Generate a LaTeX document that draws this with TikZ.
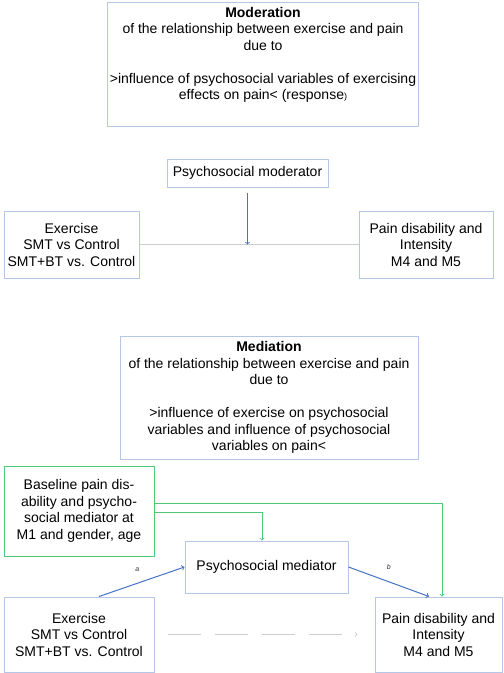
\documentclass[tikz,border=0pt]{standalone}
\usepackage{fontspec}
\setmainfont{Liberation Sans}
\usepackage{tikz}
\usetikzlibrary{positioning}

\definecolor{boxblue}{RGB}{180,199,231}
\definecolor{lineblue}{RGB}{68,114,196}
\definecolor{linegreen}{RGB}{80,200,120}
\definecolor{linegray}{RGB}{205,205,205}

\tikzset{
  box/.style={draw=boxblue, line width=1pt, align=center, inner sep=2pt,
    font=\fontsize{14}{16.5}\selectfont},
  greenbox/.style={box, draw=linegreen},
  lab/.style={text=black!80, font=\fontsize{7}{8}\selectfont\itshape, inner sep=0pt}
}

\begin{document}
\begin{tikzpicture}[x=1pt,y=-1pt]
    \useasboundingbox (0,0) rectangle (504,673);

    % moderation part
    \node[box, minimum width=308, minimum height=124] (mod) at (263,64)
      {\textbf{Moderation}\\of the relationship between exercise and pain\\due to\\[16.5pt]
       >influence of psychosocial variables of exercising\\effects on pain< (response{\fontsize{9}{10}\selectfont )}\\ \strut};

    \node[box, minimum width=161, minimum height=28] (modvar) at (247.5,173) {Psychosocial moderator};
    \node[box, minimum width=135, minimum height=67] (exA) at (71.5,244.5) {Exercise\\SMT vs Control\\SMT+BT vs. Control};
    \node[box, minimum width=134, minimum height=67] (painA) at (426,244.5) {Pain disability and\\Intensity\\M4 and M5};

    \draw[linegray, line width=0.8pt] (exA.east) -- (painA.west);
    \draw[->, lineblue, line width=0.8pt] ([yshift=-5pt]modvar.south) -- (modvar.south |- exA.east);

    % mediation part
    \node[box, minimum width=298, minimum height=123] (med) at (269,397.5)
      {\textbf{Mediation}\\of the relationship between exercise and pain\\due to\\[16.5pt]
       >influence of exercise on psychosocial\\variables and influence of psychosocial\\variables on pain<};

    \node[greenbox, minimum width=150, minimum height=90] (base) at (79,511)
      {Baseline pain dis-\\ability and psycho-\\social mediator at\\M1 and gender, age};
    \node[box, minimum width=163, minimum height=52] (medvar) at (266.5,567) {Psychosocial mediator};
    \node[box, minimum width=150, minimum height=75] (exB) at (79,634.5) {Exercise\\SMT vs Control\\SMT+BT vs. Control};
    \node[box, minimum width=127, minimum height=75] (painB) at (438.5,634.5) {Pain disability and\\Intensity\\M4 and M5};

    \draw[->, lineblue, line width=1pt] ([xshift=20pt]exB.north) -- (medvar.west)
      node[lab, pos=0.5, above left=10pt and 2pt] (la) {a};
    \draw[->, lineblue, line width=1pt] (medvar.east) -- ([xshift=-9.5pt]painB.north)
      node[lab, pos=0.5, above=12pt] (lb) {b};

    \draw[->, linegreen, line width=0.8pt] ([yshift=8pt]base.east) -| ([xshift=3.5pt]painB.north);
    \draw[->, linegreen, line width=0.8pt] ([yshift=-1pt]base.east) -| ([xshift=-4.5pt]medvar.north);

    \draw[->, linegray, line width=0.8pt, dash pattern=on 33pt off 14pt, shorten <=13pt, shorten >=17pt] (exB.east) -- (painB.west);
\end{tikzpicture}
\end{document}
